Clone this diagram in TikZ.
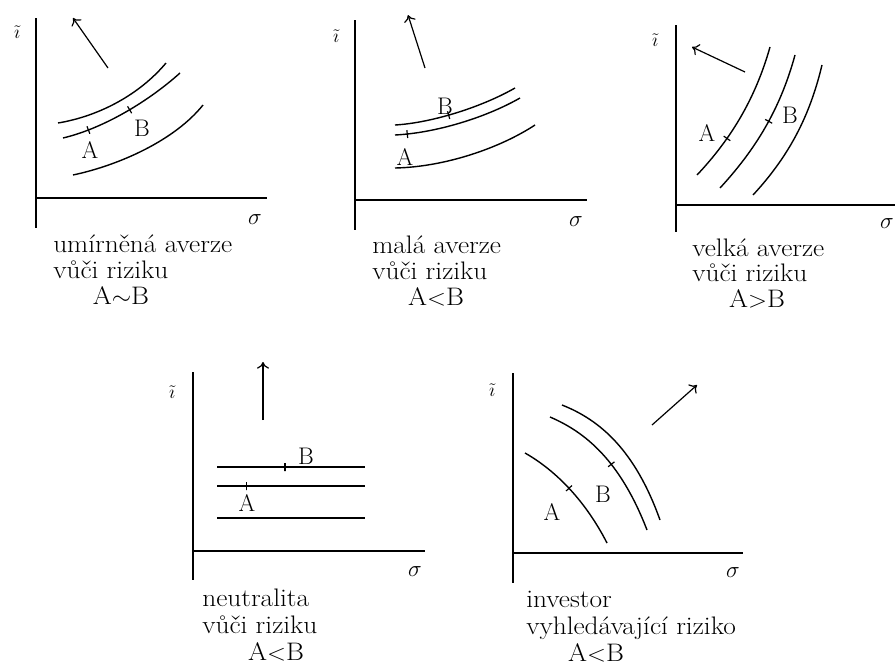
\documentclass[tikz,border=0pt]{standalone}
\usepackage{graphicx}
\usetikzlibrary{arrows.meta}
\newcommand{\wide}[1]{\scalebox{1.08}[1]{#1}}
\begin{document}
\begin{tikzpicture}[x=0.75pt,y=-0.75pt,
  axisline/.style={line width=1.25pt},
  icurve/.style={line width=1.05pt},
  arr/.style={line width=0.9pt,-{To[length=5pt,width=9pt]}},
  tickmark/.style={draw,line width=0.9pt,inner sep=0pt,minimum width=0pt,minimum height=6pt,sloped,allow upside down},
  captxt/.style={inner sep=0pt,font=\fontsize{19}{20}\selectfont},
  lbl/.style={inner sep=0pt,font=\fontsize{18}{20}\selectfont},
  sig/.style={inner sep=0pt,font=\fontsize{18}{20}\selectfont},
  ilab/.style={inner sep=0pt,font=\fontsize{14}{16}\selectfont}]
\useasboundingbox[fill=white] (0,0) rectangle (895,664);

% ---------- Panel 1 ----------
\draw[axisline] (36,18) -- (36,228);
\draw[axisline] (36,198) -- (267,198);
\node[ilab] (i1) at (17,32) {$\tilde{\imath}$};
\node[sig] (s1) at (255,220) {$\sigma$};
\coordinate (a1s) at (108,68); \coordinate (a1e) at (73,18);
\draw[arr] (a1s) -- (a1e);
\draw[icurve] (58,123) .. controls (100,116) and (140,94) .. (166,63);
\draw[icurve] (63,138) .. controls (105,128) and (150,100) .. (180,73)
  node[tickmark,pos=0.2] (tA1) {} node[tickmark,pos=0.53] (tB1) {};
\draw[icurve] (73,175) .. controls (120,165) and (175,140) .. (203,105);
\node[lbl] (A1) at (90,150) {A};
\node[lbl] (B1) at (142,128) {B};
\node[captxt,anchor=base west] (c1a) at (53,252) {\wide{umírněná averze}};
\node[captxt,anchor=base west] (c1b) at (53,278) {\wide{vůči riziku}};
\node[captxt,anchor=base] (c1c) at (121,304) {\wide{A$\sim$B}};

% ---------- Panel 2 ----------
\draw[axisline] (355,20) -- (355,230);
\draw[axisline] (355,200) -- (587,200);
\node[ilab] (i2) at (336,36) {$\tilde{\imath}$};
\node[sig] (s2) at (576,222) {$\sigma$};
\coordinate (a2s) at (425,68); \coordinate (a2e) at (408,15);
\draw[arr] (a2s) -- (a2e);
\draw[icurve] (395,125) .. controls (430,123) and (480,108) .. (515,88)
  node[tickmark,pos=0.45] (tB2) {};
\draw[icurve] (395,135) .. controls (435,133) and (485,118) .. (520,98)
  node[tickmark,pos=0.1] (tA2) {};
\draw[icurve] (395,168) .. controls (445,167) and (500,148) .. (535,125);
\node[lbl] (A2) at (405,157) {A};
\node[lbl] (B2) at (445,106) {B};
\node[captxt,anchor=base west] (c2a) at (372,253) {\wide{malá averze}};
\node[captxt,anchor=base west] (c2b) at (372,279) {\wide{vůči riziku}};
\node[captxt,anchor=base] (c2c) at (436,305) {\wide{A$<$B}};

% ---------- Panel 3 ----------
\draw[axisline] (676,25) -- (676,232);
\draw[axisline] (676,205) -- (895,205);
\node[ilab] (i3) at (655,40) {$\tilde{\imath}$};
\node[sig] (s3) at (887,224) {$\sigma$};
\coordinate (a3s) at (745,72); \coordinate (a3e) at (692,47);
\draw[arr] (a3s) -- (a3e);
\draw[icurve] (697,175) .. controls (730,140) and (755,100) .. (770,47)
  node[tickmark,pos=0.33] (tA3) {};
\draw[icurve] (720,188) .. controls (755,150) and (780,110) .. (795,55)
  node[tickmark,pos=0.55] (tB3) {};
\draw[icurve] (753,195) .. controls (790,155) and (810,115) .. (822,65);
\node[lbl] (A3) at (707,133) {A};
\node[lbl] (B3) at (790,115) {B};
\node[captxt,anchor=base west] (c3a) at (692,256) {\wide{velká averze}};
\node[captxt,anchor=base west] (c3b) at (692,281) {\wide{vůči riziku}};
\node[captxt,anchor=base] (c3c) at (757,307) {\wide{A$>$B}};

% ---------- Panel 4 ----------
\draw[axisline] (193,372) -- (193,580);
\draw[axisline] (193,551) -- (425,551);
\node[ilab] (i4) at (172,392) {$\tilde{\imath}$};
\node[sig] (s4) at (415,572) {$\sigma$};
\coordinate (a4s) at (263,420); \coordinate (a4e) at (263,362);
\draw[arr] (a4s) -- (a4e);
\draw[icurve] (217,467) -- (365,467) node[tickmark,pos=0.46] (tB4) {};
\draw[icurve] (217,486) -- (365,486) node[tickmark,pos=0.2] (tA4) {};
\draw[icurve] (217,518) -- (365,518);
\node[lbl] (A4) at (247,503) {A};
\node[lbl] (B4) at (306,456) {B};
\node[captxt,anchor=base west] (c4a) at (202,606) {\wide{neutralita}};
\node[captxt,anchor=base west] (c4b) at (202,633) {\wide{vůči riziku}};
\node[captxt,anchor=base] (c4c) at (276,660) {\wide{A$<$B}};

% ---------- Panel 5 ----------
\draw[axisline] (513,373) -- (513,583);
\draw[axisline] (513,553) -- (743,553);
\node[ilab] (i5) at (492,390) {$\tilde{\imath}$};
\node[sig] (s5) at (733,573) {$\sigma$};
\coordinate (a5s) at (652,425); \coordinate (a5e) at (697,385);
\draw[arr] (a5s) -- (a5e);
\draw[icurve] (525,453) .. controls (555,470) and (585,500) .. (607,543)
  node[tickmark,pos=0.5] (tA5) {};
\draw[icurve] (550,417) .. controls (585,432) and (620,460) .. (647,530)
  node[tickmark,pos=0.6] (tB5) {};
\draw[icurve] (562,405) .. controls (600,420) and (635,450) .. (660,520);
\node[lbl] (A5) at (552,512) {A};
\node[lbl] (B5) at (603,494) {B};
\node[captxt,anchor=base west] (c5a) at (526,607) {\wide{investor}};
\node[captxt,anchor=base west] (c5b) at (526,634) {\wide{vyhledávající riziko}};
\node[captxt,anchor=base] (c5c) at (596,661) {\wide{A$<$B}};
\end{tikzpicture}
\end{document}
